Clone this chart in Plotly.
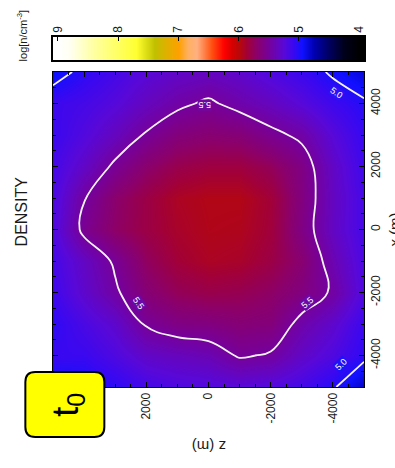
import numpy as np
import plotly.graph_objects as go

# ---- data: log10 density on a 1 km grid (rows: x from +5000 down to -5000 m,
#      columns: z from +5000 down to -5000 m) ----
X_ROWS = [5000, 4000, 3000, 2000, 1000, 0, -1000, -2000, -3000, -4000, -5000]
Z_COLS = [5000, 4000, 3000, 2000, 1000, 0, -1000, -2000, -3000, -4000, -5000]
DENSITY = [
    [4.92, 5.05, 5.15, 5.25, 5.32, 5.35, 5.30, 5.20, 5.10, 4.97, 4.85],
    [5.11, 5.16, 5.24, 5.36, 5.46, 5.53, 5.44, 5.36, 5.25, 5.12, 5.03],
    [5.10, 5.22, 5.36, 5.52, 5.64, 5.68, 5.66, 5.55, 5.46, 5.25, 5.08],
    [5.15, 5.33, 5.54, 5.70, 5.80, 5.84, 5.84, 5.76, 5.60, 5.33, 5.12],
    [5.18, 5.49, 5.70, 5.82, 5.92, 5.96, 5.96, 5.86, 5.62, 5.35, 5.15],
    [5.20, 5.55, 5.72, 5.82, 5.90, 5.95, 5.94, 5.85, 5.60, 5.34, 5.15],
    [5.15, 5.34, 5.53, 5.74, 5.86, 5.92, 5.90, 5.82, 5.68, 5.41, 5.18],
    [5.12, 5.30, 5.47, 5.66, 5.76, 5.80, 5.78, 5.72, 5.62, 5.475, 5.20],
    [5.05, 5.18, 5.30, 5.52, 5.60, 5.62, 5.66, 5.64, 5.44, 5.30, 5.10],
    [5.10, 5.10, 5.20, 5.32, 5.36, 5.40, 5.52, 5.48, 5.32, 5.20, 5.05],
    [4.93, 4.97, 5.05, 5.15, 5.20, 5.22, 5.25, 5.22, 5.15, 5.025, 4.80],
]
CONTOUR_LEVELS = [5.0, 5.5]

AXIS_TICKS = [-4000, -2000, 0, 2000, 4000]
AXIS_LABELS = ["-4000", "-2000", "0", "2000", "4000"]
CBAR_TICKS = [4, 5, 6, 7, 8, 9]
CBAR_LABELS = ["4", "5", "6", "7", "8", "9"]
CBAR_LIMITS = [4, 9]

# colour table (value in log10 n, colour)
CTABLE = [
    (4.00, "#000000"), (4.25, "#00001a"), (4.50, "#000060"), (4.75, "#0000b0"),
    (4.95, "#1010ff"), (5.10, "#3a08f0"), (5.25, "#5808d8"), (5.40, "#6a04b4"),
    (5.55, "#7a0090"), (5.70, "#8a006c"), (5.85, "#a0003c"), (6.00, "#b80808"),
    (6.12, "#d80000"), (6.25, "#ff0000"), (6.45, "#ff5010"), (6.70, "#ffb080"),
    (6.85, "#ffb060"), (7.00, "#ffa000"), (7.20, "#e0b000"), (7.40, "#c0c000"),
    (7.70, "#ffff30"), (8.00, "#ffff60"), (8.40, "#ffffa0"), (8.80, "#fffff0"),
    (9.00, "#ffffff"),
]
vmin, vmax = CBAR_LIMITS
colorscale = [[(v - vmin) / (vmax - vmin), c] for v, c in CTABLE]

# ---- figure geometry ----
W, H = 395, 468
ML, MR, MT, MB = 53, 27, 37, 81
PW, PH = W - ML - MR, H - MT - MB


def px_x(p):
    return (p - ML) / PW


def px_y(p):
    return (H - MB - p) / PH


z_grid = np.array(DENSITY)[::-1, ::-1]
x_vals = Z_COLS[::-1]
y_vals = X_ROWS[::-1]

FONT = "Liberation Sans, Arial, sans-serif"
TXT = "#1a1a1a"

fig = go.Figure()

fig.add_trace(go.Heatmap(
    x=x_vals, y=y_vals, z=z_grid, zmin=vmin, zmax=vmax,
    colorscale=colorscale, zsmooth="best", showscale=False,
    xaxis="x", yaxis="y", hoverinfo="skip",
))
fig.add_trace(go.Contour(
    x=x_vals, y=y_vals, z=z_grid, showscale=False,
    contours=dict(start=CONTOUR_LEVELS[0], end=CONTOUR_LEVELS[-1],
                  size=CONTOUR_LEVELS[1] - CONTOUR_LEVELS[0],
                  coloring="none", showlabels=False),
    line=dict(color="#f4f4f4", width=1.8, smoothing=1.2),
    xaxis="x", yaxis="y", hoverinfo="skip",
))

# colour bar drawn as a smooth strip through the same colour table
fig.add_trace(go.Heatmap(
    x=CBAR_LIMITS, y=[0], z=[CBAR_LIMITS], zmin=vmin, zmax=vmax,
    colorscale=colorscale, zsmooth="best", showscale=False,
    xaxis="x2", yaxis="y2", hoverinfo="skip",
))

tick_common = dict(
    ticks="inside", ticklen=5, tickwidth=1, tickcolor="black",
    showline=True, linecolor="black", linewidth=1.2, mirror="ticks",
    showgrid=False, zeroline=False, tickangle=-90,
    tickfont=dict(family=FONT, size=12, color=TXT),
    minor=dict(dtick=500, ticks="inside", ticklen=3, tickcolor="black"),
)

fig.update_layout(
    width=W, height=H,
    margin=dict(l=ML, r=MR, t=MT, b=MB),
    paper_bgcolor="white", plot_bgcolor="white",
    showlegend=False,
    xaxis=dict(domain=[0, 1], anchor="y", range=[5000, -5000],
               tickvals=AXIS_TICKS, ticktext=AXIS_LABELS, **tick_common),
    yaxis=dict(domain=[0, px_y(72)], anchor="x", range=[-5000, 5000], side="right",
               tickvals=AXIS_TICKS, ticktext=AXIS_LABELS, **tick_common),
    xaxis2=dict(domain=[0, 1], anchor="y2", range=[9.08, 3.92], side="top",
                tickvals=CBAR_TICKS, ticktext=CBAR_LABELS, tickangle=-90,
                ticks="inside", ticklen=4, tickcolor="black",
                showline=True, linecolor="black", linewidth=1.5, mirror=True,
                showgrid=False, zeroline=False,
                tickfont=dict(family=FONT, size=12, color=TXT)),
    yaxis2=dict(domain=[px_y(60), px_y(37)], anchor="x2", range=[-0.5, 0.5],
                showticklabels=False, ticks="", showline=True, linecolor="black",
                linewidth=1.5, mirror=True, showgrid=False, zeroline=False),
)

# rounded yellow time-stamp box
bx0, bx1, by0, by1, rad = 25, 105, 372, 437, 10
x0, x1 = px_x(bx0), px_x(bx1)
yt, yb = px_y(by0), px_y(by1)
rx, ry = rad / PW, rad / PH
path = (f"M {x0+rx},{yt} L {x1-rx},{yt} Q {x1},{yt} {x1},{yt-ry} "
        f"L {x1},{yb+ry} Q {x1},{yb} {x1-rx},{yb} L {x0+rx},{yb} "
        f"Q {x0},{yb} {x0},{yb+ry} L {x0},{yt-ry} Q {x0},{yt} {x0+rx},{yt} Z")
fig.add_shape(type="path", path=path, xref="paper", yref="paper",
              fillcolor="#ffff00", line=dict(color="black", width=2), layer="above")

# contour level labels, set along the lines
level_labels = [
    ("5.5", 207, 99, 180, "#7008a0"),
    ("5.5", 130, 313, 55, "#6a08a8"),
    ("5.5", 320, 312, -40, "#6a08a8"),
    ("5.0", 350, 84, 35, "#3010f4"),
    ("5.0", 355, 374, -45, "#2010fa"),
]
for txt, lx, ly, ang, bg in level_labels:
    fig.add_annotation(xref="paper", yref="paper", showarrow=False,
                       x=px_x(lx), y=px_y(ly), text=txt, textangle=ang,
                       bgcolor=bg, borderpad=0,
                       font=dict(family=FONT, size=9, color="white"))

annotations = [
    dict(text="DENSITY", x=px_x(21), y=px_y(211), textangle=-90,
         font=dict(family=FONT, size=16, color=TXT)),
    dict(text="log[n/cm<sup>-3</sup>]", x=px_x(22), y=px_y(36), textangle=-90,
         font=dict(family=FONT, size=11, color=TXT)),
    dict(text="z (m)", x=px_x(211), y=px_y(447), textangle=180,
         font=dict(family=FONT, size=15, color=TXT)),
    dict(text="x (m)", x=px_x(399), y=px_y(230), textangle=-90,
         font=dict(family=FONT, size=15, color=TXT)),
    dict(text="t<sub>0</sub>", x=px_x(68), y=px_y(405), textangle=-90,
         font=dict(family="Liberation Sans, Arial, sans-serif", size=36, color="black")),
]
for a in annotations:
    fig.add_annotation(xref="paper", yref="paper", showarrow=False,
                       xanchor="center", yanchor="middle", **a)

fig.write_html("out.html")
